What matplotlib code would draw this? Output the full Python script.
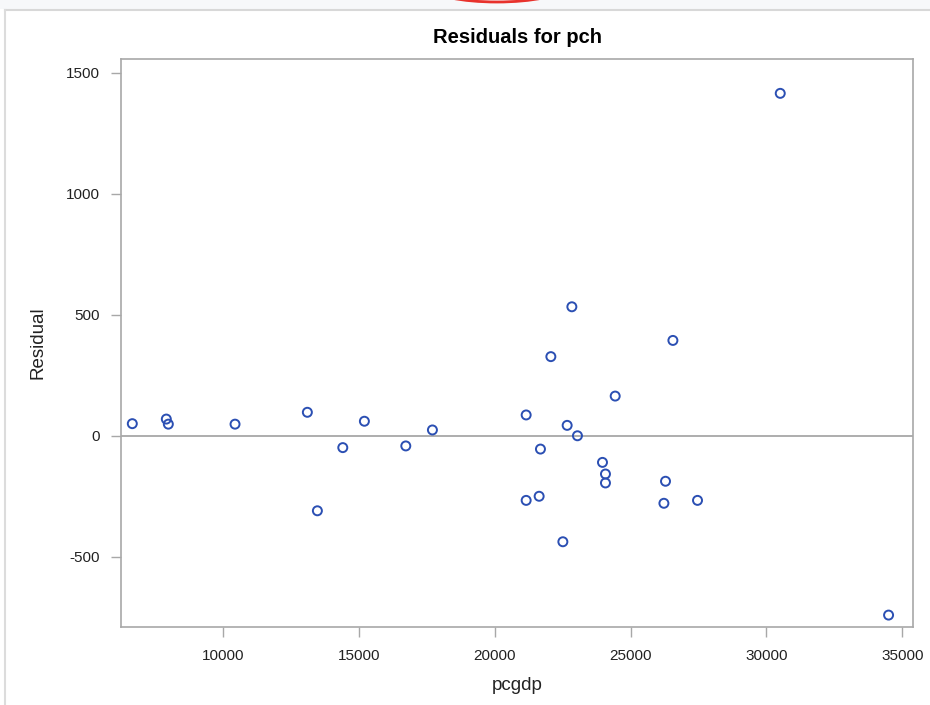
import matplotlib
matplotlib.use("Agg")
import matplotlib.pyplot as plt
from matplotlib.patches import Arc, Rectangle
from matplotlib.lines import Line2D

plt.rcParams['font.family'] = ['Liberation Sans', 'DejaVu Sans']

pcgdp = [6660, 7912, 7986, 10441, 13103, 13472, 14407, 15202, 16726, 17706,
         21156, 21156, 21634, 21682, 22065, 22507, 22665, 22838, 23044, 23965,
         24075, 24075, 24433, 26285, 26226, 26557, 27463, 30508, 34495]
residual = [49, 68, 47, 47, 96, -311, -50, 59, -43, 23,
            85, -268, -251, -56, 326, -439, 42, 532, -1, -111,
            -159, -196, 163, -189, -280, 393, -268, 1414, -742]
xticks = [10000, 15000, 20000, 25000, 30000, 35000]
yticks = [-500, 0, 500, 1000, 1500]

W, H = 930, 705
fig = plt.figure(figsize=(W/100, H/100), dpi=100)
fig.patch.set_facecolor('white')

# page decoration: top strip, borders, red arc
fig.patches.append(Rectangle((0, 1 - 9/H), 1, 9/H, transform=fig.transFigure,
                             facecolor='#f7f8fa', edgecolor='none', zorder=0))
fig.lines.append(Line2D([5/W, 1], [1 - 9.5/H, 1 - 9.5/H], transform=fig.transFigure,
                        color='#d8d8d8', lw=1.5))
fig.lines.append(Line2D([4.5/W, 4.5/W], [0, 1 - 9.5/H], transform=fig.transFigure,
                        color='#dcdcdc', lw=1.5))
fig.patches.append(Arc((497/W, 1 + 12/H), 130/W, 28/H, theta1=180, theta2=360,
                       transform=fig.transFigure, color='#e8322c', lw=2.0))

ax = fig.add_axes([121/W, 1 - 626.7/H, (913.3 - 121)/W, (626.7 - 58.5)/H])
ax.axhline(0, color='#a0a0a0', lw=1.2, zorder=1)
ax.scatter(pcgdp, residual, s=42, facecolors='none', edgecolors='#2b4fb3',
           linewidths=1.4, zorder=3)

ax.set_xlim(6244, 35405)
ax.set_ylim(-790, 1558)
ax.set_xticks(xticks)
ax.set_yticks(yticks)
ax.set_xticklabels([str(v) for v in xticks])
ax.set_yticklabels([str(v) for v in yticks])
for s in ax.spines.values():
    s.set_color('#a8a8a8')
    s.set_linewidth(1.2)
ax.tick_params(axis='both', colors='#a8a8a8', labelcolor='#222222',
               length=7, width=1.0, labelsize=11)
ax.tick_params(axis='x', pad=9)
ax.tick_params(axis='y', pad=8)

ax.set_title('Residuals for pch', fontsize=14.5, fontweight='bold', color='black', pad=11)
ax.set_xlabel('pcgdp', fontsize=13.5, color='#222222', labelpad=10)
ax.set_ylabel('Residual', fontsize=13.5, color='#222222', labelpad=14)

fig.savefig('out.png', dpi=100)
